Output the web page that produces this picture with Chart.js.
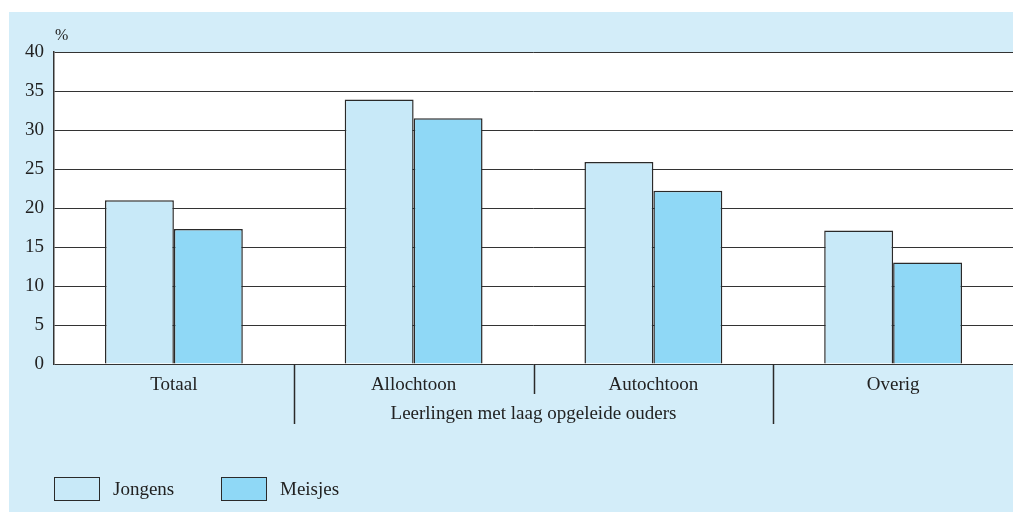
<!DOCTYPE html>
<html>
<head>
<meta charset="utf-8">
<script src="https://cdn.jsdelivr.net/npm/chart.js@4/dist/chart.umd.min.js"></script>
<style>
  html, body { margin: 0; padding: 0; background: #fff; }
  #wrap { position: relative; width: 1013px; height: 512px; }
</style>
</head>
<body>
<div id="wrap"><canvas id="chart" width="1013" height="512"></canvas></div>
<script>
// gegevens
const categorieen = ["Totaal", "Allochtoon", "Autochtoon", "Overig"];
const jongens = [21.0, 33.9, 25.9, 17.1];
const meisjes = [17.3, 31.5, 22.2, 13.0];
const reeksNamen = ["Jongens", "Meisjes"];
const groepLabel = "Leerlingen met laag opgeleide ouders";
const eenheid = "%";

const FONT = "'Liberation Serif', 'DejaVu Serif', serif";
const TEXT = "#222";
const LIJN = "#2a2a2a";
const BLAUW_BG = "#d3edf9";
const kleuren = ["#c8e9f8", "#8fd8f6"];

// achtergrond, kader, scheidingslijnen en legenda
const extras = {
  id: "extras",
  beforeDraw(chart) {
    const ctx = chart.ctx;
    const a = chart.chartArea;
    ctx.save();
    ctx.fillStyle = "#fff";
    ctx.fillRect(0, 0, chart.width, chart.height);
    ctx.fillStyle = BLAUW_BG;
    ctx.fillRect(9, 12, chart.width - 9, chart.height - 12);
    ctx.fillStyle = "#fff";
    ctx.fillRect(a.left, a.top, a.right - a.left, a.bottom - a.top);
    ctx.restore();
  },
  afterDraw(chart) {
    const ctx = chart.ctx;
    const a = chart.chartArea;
    const x = chart.scales.x;
    ctx.save();
    // eenheid boven de as
    ctx.fillStyle = TEXT;
    ctx.font = "16px " + FONT;
    ctx.textAlign = "left";
    ctx.textBaseline = "alphabetic";
    ctx.fillText(eenheid, a.left + 1, a.top - 12);

    // scheidingslijnen onder de x-as
    ctx.strokeStyle = LIJN;
    ctx.lineWidth = 1.5;
    const grenzen = [0.5, 1.5, 2.5];
    grenzen.forEach((g, i) => {
      const px = Math.round((x.getPixelForValue(g - 0.5) + x.getPixelForValue(g + 0.5)) / 2) + 0.5;
      const lang = i !== 1;
      ctx.beginPath();
      ctx.moveTo(px, a.bottom);
      ctx.lineTo(px, a.bottom + (lang ? 60 : 30));
      ctx.stroke();
    });

    // groepslabel
    ctx.font = "19px " + FONT;
    ctx.textAlign = "center";
    ctx.textBaseline = "middle";
    const gx = (x.getPixelForValue(1) + x.getPixelForValue(2)) / 2;
    ctx.fillText(groepLabel, gx, a.bottom + 50);

    // legenda
    const items = [{ x: a.left, tekst: reeksNamen[0], kleur: kleuren[0] },
                   { x: a.left + 167, tekst: reeksNamen[1], kleur: kleuren[1] }];
    ctx.textAlign = "left";
    items.forEach(it => {
      ctx.fillStyle = it.kleur;
      ctx.fillRect(it.x, 477, 45, 23);
      ctx.strokeStyle = LIJN;
      ctx.lineWidth = 1;
      ctx.strokeRect(it.x + 0.5, 477.5, 45, 23);
      ctx.fillStyle = TEXT;
      ctx.fillText(it.tekst, it.x + 59, 490);
    });
    ctx.restore();
  }
};

new Chart(document.getElementById("chart"), {
  type: "bar",
  data: {
    labels: categorieen,
    datasets: [
      { label: reeksNamen[0], data: jongens, backgroundColor: kleuren[0], borderColor: LIJN, borderWidth: 1.5 },
      { label: reeksNamen[1], data: meisjes, backgroundColor: kleuren[1], borderColor: LIJN, borderWidth: 1.5 }
    ]
  },
  options: {
    responsive: false,
    animation: false,
    layout: { padding: { top: 52, right: 0, bottom: 0, left: 0 } },
    plugins: { legend: { display: false }, tooltip: { enabled: false } },
    datasets: { bar: { categoryPercentage: 0.575, barPercentage: 1 } },
    scales: {
      x: {
        grid: { display: false, drawTicks: false },
        border: { display: false },
        ticks: { color: TEXT, font: { family: FONT, size: 19 }, padding: 10 },
        afterFit(s) { s.height = 148; }
      },
      y: {
        min: 0, max: 40,
        ticks: { stepSize: 5, color: TEXT, font: { family: FONT, size: 19 }, padding: 10 },
        grid: { color: "#333", lineWidth: 1, drawTicks: false },
        border: { display: true, color: "#333", width: 1.5 },
        afterFit(s) { s.width = 54; }
      }
    }
  },
  plugins: [extras]
});
</script>
</body>
</html>
